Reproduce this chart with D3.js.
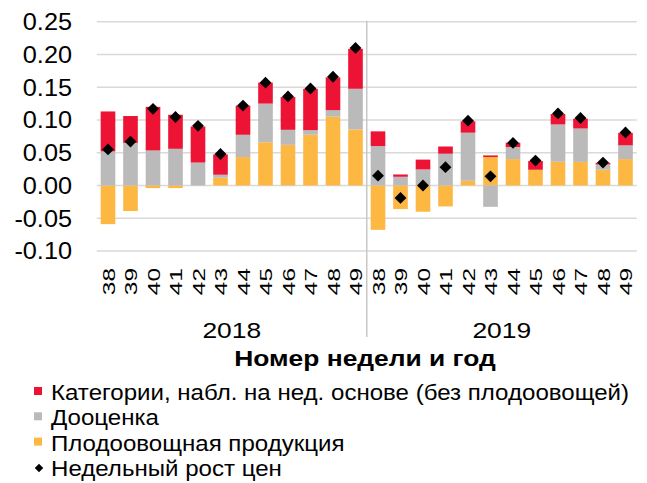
<!DOCTYPE html>
<html>
<head>
<meta charset="utf-8">
<script src="https://cdn.jsdelivr.net/npm/d3@7"></script>
<style>
  body { margin: 0; background: #fff; }
  text { font-family: "Liberation Sans", Arial, sans-serif; fill: #000; }
</style>
</head>
<body>
<div id="chart"></div>
<script>
const width = 647;
const height = 483;

// data
const years = ["2018", "2019"];
const weeks = ["38", "39", "40", "41", "42", "43", "44", "45", "46", "47", "48", "49"];
const categories = [0.061, 0.041, 0.0665, 0.052, 0.055, 0.031, 0.0445, 0.032, 0.05, 0.063, 0.05, 0.061,
                    0.0224, 0.0035, 0.015, 0.011, 0.0174, 0.0025, 0.0066, 0.0133, 0.016, 0.015, 0.0026, 0.019];
const revaluation = [0.052, 0.065, 0.0535, 0.056, 0.035, 0.0046, 0.034, 0.059, 0.023, 0.007, 0.01, 0.062,
                     0.0602, 0.0133, 0.0245, 0.0485, 0.0734, -0.0326, 0.0184, 0, 0.057, 0.051, 0.0081, 0.021];
const fruitVeg = [-0.059, -0.039, -0.004, -0.004, 0, 0.0118, 0.0434, 0.066, 0.062, 0.0775, 0.105, 0.0856,
                  -0.0677, -0.036, -0.040, -0.032, 0.0072, 0.0434, 0.0403, 0.024, 0.0362, 0.036, 0.024, 0.0403];
const weeklyGrowth = [0.055, 0.067, 0.117, 0.1045, 0.091, 0.048, 0.122, 0.157, 0.136, 0.148, 0.166, 0.21,
                      0.015, -0.019, 0, 0.028, 0.099, 0.014, 0.065, 0.038, 0.11, 0.103, 0.035, 0.081];
const yTicks = [-0.10, -0.05, 0, 0.05, 0.10, 0.15, 0.20, 0.25];

const seriesNames = {
  categories: "Категории, набл. на нед. основе (без плодоовощей)",
  revaluation: "Дооценка",
  fruitVeg: "Плодоовощная продукция",
  growth: "Недельный рост цен"
};
const colors = { categories: "#ED1334", revaluation: "#BABABA", fruitVeg: "#FDB843" };

const rows = [];
years.forEach((yr, i) => {
  weeks.forEach((wk, j) => {
    const k = i * weeks.length + j;
    rows.push({
      key: yr + "-" + wk, year: yr, week: wk,
      fruitVeg: fruitVeg[k], revaluation: revaluation[k], categories: categories[k],
      growth: weeklyGrowth[k]
    });
  });
});

const plot = { left: 96.75, right: 636.75, top: 21.7, bottom: 251 };

const svg = d3.select("#chart").append("svg").attr("width", width).attr("height", height);

const x = d3.scaleBand().domain(rows.map(d => d.key)).range([plot.left, plot.right]).paddingInner(0.35).paddingOuter(0.175);
const y = d3.scaleLinear().domain([-0.10, 0.25]).range([plot.bottom, plot.top]);

// hyphen minus like the original
const fmt = d3.formatLocale({ decimal: ".", thousands: ",", grouping: [3], currency: ["", ""], minus: "-" }).format(".2f");

// gridlines
svg.append("g")
  .selectAll("line")
  .data(yTicks)
  .join("line")
  .attr("x1", plot.left)
  .attr("x2", plot.right)
  .attr("y1", d => y(d))
  .attr("y2", d => y(d))
  .attr("stroke", "#D9D9D9")
  .attr("stroke-width", 1.5);

// y tick labels (text in the original is a bit wider than the font)
svg.append("g")
  .selectAll("text")
  .data(yTicks)
  .join("text")
  .attr("transform", d => `translate(72,${y(d)}) scale(1.1,1)`)
  .attr("dy", "0.36em")
  .attr("text-anchor", "end")
  .style("font-size", "23px")
  .text(d => fmt(d));

// stacked bars
const keys = ["fruitVeg", "revaluation", "categories"];
const stack = d3.stack().keys(keys).offset(d3.stackOffsetDiverging);
const layers = stack(rows);

svg.append("g")
  .selectAll("g")
  .data(layers)
  .join("g")
  .attr("fill", d => colors[d.key])
  .selectAll("rect")
  .data(d => d)
  .join("rect")
  .attr("x", d => x(d.data.key))
  .attr("width", x.bandwidth())
  .attr("y", d => y(Math.max(d[0], d[1])))
  .attr("height", d => Math.abs(y(d[0]) - y(d[1])));

// separator between years
const sepX = x(rows[weeks.length].key) - x.step() * x.paddingInner() / 2;
svg.append("line")
  .attr("x1", sepX).attr("x2", sepX)
  .attr("y1", plot.top - 1).attr("y2", 337)
  .attr("stroke", "#C8C8C8")
  .attr("stroke-width", 1.5);

// weekly growth diamonds
const diamond = d3.symbol(d3.symbolSquare, 70);
svg.append("g")
  .selectAll("path")
  .data(rows)
  .join("path")
  .attr("d", diamond)
  .attr("transform", d => `translate(${x(d.key) + x.bandwidth() / 2},${y(d.growth)}) rotate(45)`)
  .attr("fill", "#000");

// week labels (rotated, tall and narrow in the original)
svg.append("g")
  .selectAll("text")
  .data(rows)
  .join("text")
  .attr("transform", d => `translate(${x(d.key) + x.bandwidth() / 2 + 1},268) rotate(-90) scale(1.22,0.8)`)
  .attr("dy", "0.36em")
  .attr("text-anchor", "end")
  .style("font-size", "20px")
  .text(d => d.week);

// year labels
svg.append("g")
  .selectAll("text")
  .data(years)
  .join("text")
  .attr("transform", (d, i) => {
    const first = x(rows[i * weeks.length].key);
    const last = x(rows[i * weeks.length + weeks.length - 1].key) + x.bandwidth();
    return `translate(${(first + last) / 2},338) scale(1.2,1)`;
  })
  .attr("text-anchor", "middle")
  .style("font-size", "22px")
  .text(d => d);

// axis title
svg.append("text")
  .attr("transform", "translate(365,366) scale(1.2,1)")
  .attr("text-anchor", "middle")
  .style("font-size", "22px")
  .style("font-weight", "bold")
  .text("Номер недели и год");

// legend
const legendItems = [
  { name: seriesNames.categories, color: colors.categories, type: "square" },
  { name: seriesNames.revaluation, color: colors.revaluation, type: "square" },
  { name: seriesNames.fruitVeg, color: colors.fruitVeg, type: "square" },
  { name: seriesNames.growth, color: "#000", type: "diamond" }
];
const legend = svg.append("g");
const item = legend.selectAll("g")
  .data(legendItems)
  .join("g")
  .attr("transform", (d, i) => `translate(0,${400 + i * 25.3})`);

item.filter(d => d.type === "square")
  .append("rect")
  .attr("x", 34)
  .attr("y", -13)
  .attr("width", 8)
  .attr("height", 8)
  .attr("fill", d => d.color);

item.filter(d => d.type === "diamond")
  .append("path")
  .attr("d", d3.symbol(d3.symbolSquare, 36))
  .attr("transform", "translate(39,-8) rotate(45)")
  .attr("fill", "#000");

item.append("text")
  .attr("transform", "translate(51,0) scale(1.12,1)")
  .style("font-size", "21.5px")
  .text(d => d.name);
</script>
</body>
</html>
